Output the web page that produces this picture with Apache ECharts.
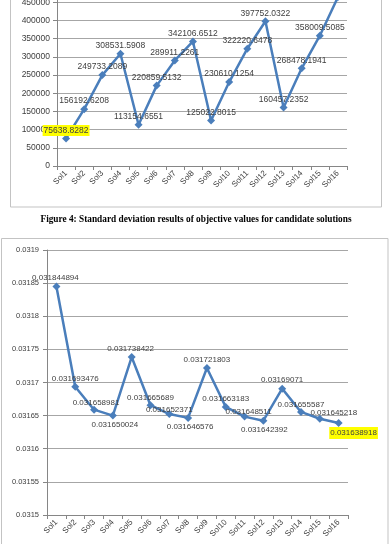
<!DOCTYPE html>
<html>
<head>
<meta charset="utf-8">
<script src="https://cdn.jsdelivr.net/npm/echarts@6/dist/echarts.min.js"></script>
<style>
  html, body { margin: 0; padding: 0; background: #fff; }
  #main { width: 392px; height: 544px; }
</style>
</head>
<body>
<div id="main"></div>
<script>
// categories shared by both charts
var solutions = ['Sol1', 'Sol2', 'Sol3', 'Sol4', 'Sol5', 'Sol6', 'Sol7', 'Sol8',
    'Sol9', 'Sol10', 'Sol11', 'Sol12', 'Sol13', 'Sol14', 'Sol15', 'Sol16'];

// upper chart (objective values) - Sol16 runs off the top, value estimated
var objectiveValues = [75638.8282, 156192.6208, 249733.2089, 308531.5908, 113154.6551,
    220859.5132, 289911.2261, 342106.6512, 125022.8015, 230610.1254, 322220.6478,
    397752.0322, 160457.2352, 268478.1941, 358009.5085, 464000];

// lower chart (standard deviation)
var stdValues = [0.031844894, 0.031693476, 0.031658981, 0.031650024, 0.031738422,
    0.031665689, 0.031652371, 0.031646576, 0.031721803, 0.031663183, 0.031648511,
    0.031642392, 0.03169071, 0.031655587, 0.031645218, 0.031638918];

var caption = 'Figure 4: Standard deviation results of objective values for candidate solutions';

var chartDom = document.getElementById('main');
var myChart = echarts.init(chartDom);

var lineColor = '#4a7ebb';
var gridColor = '#a6a6a6';
var axisColor = '#868686';
var textColor = '#404040';
var font = 'Liberation Sans';

// label offsets from marker centre, lower chart (as placed in the original)
var stdLabelOffsets = [[-1, -9], [0, -8], [2, -7], [2, 9], [-1, -8], [0, -7], [0, -4], [2, 9],
    [0, -8], [0, -8], [4, -5], [1, 9], [0, -9], [0, -7], [14, -6], [15, 10]];

let topData = objectiveValues.map((v, i) => {
    let item = { value: v };
    if (i === 0) {
        item.label = { backgroundColor: '#ffff00', padding: [1, 1] };
    }
    return item;
});

let bottomData = stdValues.map((v, i) => {
    let item = {
        value: v,
        label: { offset: stdLabelOffsets[i] }
    };
    if (i === stdValues.length - 1) {
        item.label.backgroundColor = '#ffff00';
        item.label.padding = [2, 1];
    }
    return item;
});

let catAxis = (gridIndex) => {
    return {
        type: 'category',
        gridIndex: gridIndex,
        data: solutions,
        boundaryGap: true,
        axisLine: { show: true, lineStyle: { color: axisColor, width: 1 } },
        axisTick: { show: true, length: 4, lineStyle: { color: axisColor } },
        axisLabel: {
            rotate: 45,
            fontSize: 8,
            fontFamily: font,
            color: textColor,
            margin: 6,
            interval: 0
        },
        splitLine: { show: false }
    };
};

var option = {
    animation: false,
    title: {
        text: caption,
        left: 'center',
        top: 210,
        textStyle: {
            fontFamily: 'Liberation Serif',
            fontWeight: 'bold',
            fontSize: 9.3,
            color: '#000'
        }
    },
    graphic: {
        elements: [
            {
                type: 'rect',
                z: -100,
                shape: { x: 10.5, y: -5, width: 371, height: 212 },
                style: { fill: '#fff', stroke: '#c3c3c3', lineWidth: 1 }
            },
            {
                type: 'rect',
                z: -100,
                shape: { x: 1.5, y: 238.5, width: 386.5, height: 320 },
                style: { fill: '#fff', stroke: '#c3c3c3', lineWidth: 1 }
            }
        ]
    },
    grid: [
        { left: 57, right: 45, top: -16, bottom: 378, outerBoundsMode: 'none', containLabel: false },
        { left: 47, right: 44, top: 250, bottom: 29, outerBoundsMode: 'none', containLabel: false }
    ],
    xAxis: [catAxis(0), catAxis(1)],
    yAxis: [
        {
            type: 'value',
            gridIndex: 0,
            min: 0,
            max: 500000,
            interval: 50000,
            axisLine: { show: true, lineStyle: { color: axisColor } },
            axisTick: { show: true, length: 4, lineStyle: { color: axisColor } },
            axisLabel: {
                fontSize: 8.5,
                fontFamily: font,
                color: textColor,
                margin: 7,
                formatter: function (v) { return String(v); }
            },
            splitLine: { lineStyle: { color: gridColor, width: 1 } }
        },
        {
            type: 'value',
            gridIndex: 1,
            min: 0.0315,
            max: 0.0319,
            interval: 0.00005,
            axisLine: { show: true, lineStyle: { color: axisColor } },
            axisTick: { show: true, length: 4, lineStyle: { color: axisColor } },
            axisLabel: {
                fontSize: 7.5,
                fontFamily: font,
                color: textColor,
                margin: 8,
                formatter: function (v) { return String(+v.toFixed(5)); }
            },
            splitLine: { lineStyle: { color: gridColor, width: 1 } }
        }
    ],
    series: [
        {
            type: 'line',
            xAxisIndex: 0,
            yAxisIndex: 0,
            data: topData,
            symbol: 'diamond',
            symbolSize: 8,
            lineStyle: { color: lineColor, width: 2.5 },
            itemStyle: { color: lineColor },
            label: {
                show: true,
                position: 'inside',
                offset: [0, -8],
                fontSize: 8.5,
                fontFamily: font,
                color: textColor,
                formatter: function (p) { return String(p.value); }
            }
        },
        {
            type: 'line',
            xAxisIndex: 1,
            yAxisIndex: 1,
            data: bottomData,
            symbol: 'diamond',
            symbolSize: 8,
            lineStyle: { color: lineColor, width: 2.5 },
            itemStyle: { color: lineColor },
            label: {
                show: true,
                position: 'inside',
                fontSize: 8,
                fontFamily: font,
                color: textColor,
                formatter: function (p) { return String(p.value); }
            }
        }
    ]
};

option && myChart.setOption(option);
</script>
</body>
</html>
